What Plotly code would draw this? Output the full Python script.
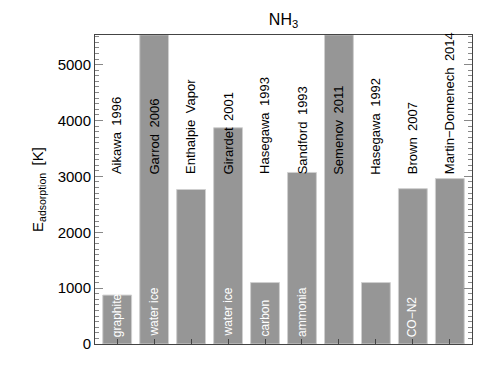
import plotly.graph_objects as go

references = ["Aikawa 1996", "Garrod 2006", "Enthalpie Vapor", "Girardet 2001",
              "Hasegawa 1993", "Sandford 1993", "Semenov 2011", "Hasegawa 1992",
              "Brown 2007", "Martin\u2212Domenech 2014"]
surfaces = ["graphite", "water ice", "", "water ice", "carbon", "ammonia",
            "", "", "CO\u2212N2", ""]
energies = [875, 5534, 2765, 3870, 1100, 3070, 5534, 1100, 2780, 2960]

FONT = "Liberation Sans, Arial, sans-serif"
x = list(range(len(references)))

fig = go.Figure()
fig.add_trace(go.Bar(
    x=x, y=energies, width=0.78,
    marker=dict(color="#969696", line=dict(color="#cfcfcf", width=1)),
    showlegend=False, hoverinfo="skip",
))

for i, (ref, surf) in enumerate(zip(references, surfaces)):
    fig.add_annotation(x=i, y=3000, text=ref.replace(" ", "\u2002"), textangle=-90,
                       showarrow=False, xanchor="center", yanchor="bottom",
                       font=dict(family=FONT, size=13, color="black"))
    if surf:
        fig.add_annotation(x=i, y=90, text=surf, textangle=-90, showarrow=False,
                           xanchor="center", yanchor="bottom",
                           font=dict(family=FONT, size=12, color="white"))

fig.update_layout(
    width=491, height=392,
    margin=dict(l=87, r=27, t=27, b=56),
    paper_bgcolor="white", plot_bgcolor="white",
    font=dict(family=FONT, size=15, color="black"),
    title=dict(text="NH<sub>3</sub>", x=0.5, xref="paper", xanchor="center",
               y=0.985, yanchor="top", font=dict(family=FONT, size=16)),
    bargap=0.22,
)
fig.update_xaxes(
    range=[-0.6, len(references) - 0.4], tickmode="array", tickvals=x,
    showticklabels=False, ticks="inside", ticklen=5, tickcolor="#444",
    showline=True, linecolor="#444", linewidth=1, mirror=True,
    showgrid=False, zeroline=False,
)
fig.update_yaxes(
    range=[0, 5530], tickmode="linear", tick0=0, dtick=1000,
    ticks="inside", ticklen=8, tickcolor="#888", tickwidth=1,
    minor=dict(dtick=100, ticks="inside", ticklen=4, tickcolor="#888"),
    showline=True, linecolor="#444", linewidth=1, mirror="ticks",
    showgrid=False, zeroline=False,
    tickfont=dict(family=FONT, size=15),
    title=dict(text="E<sub>adsorption</sub>\u2002[K]", font=dict(family=FONT, size=15),
               standoff=10),
)

fig.write_html("out.html")
